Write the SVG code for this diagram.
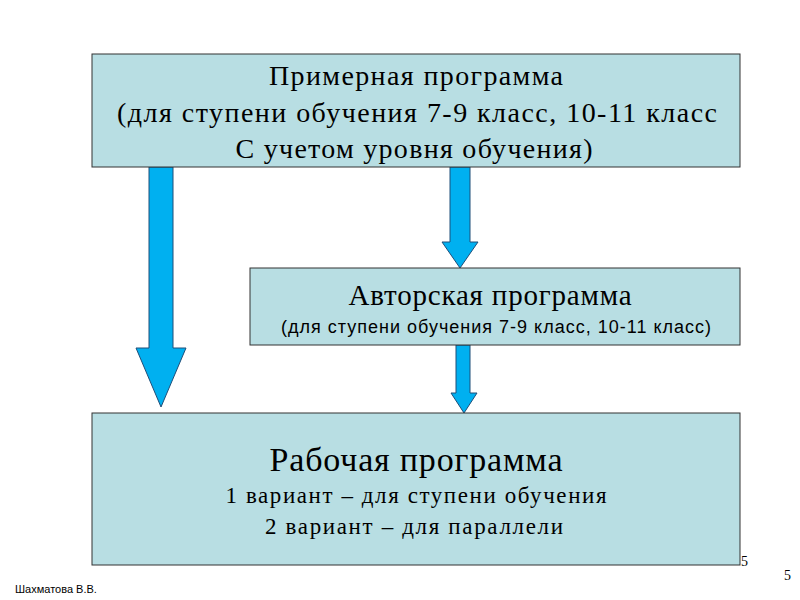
<svg xmlns="http://www.w3.org/2000/svg" width="800" height="600" viewBox="0 0 800 600">
<style>
.box{fill:#b8dee3;stroke:#333;stroke-width:1}
.arr{fill:#00b0f0;stroke:#1f4e79;stroke-width:1}
.t{font-family:"Liberation Serif",serif;fill:#000;text-anchor:middle}
.s{font-family:"Liberation Sans",sans-serif;fill:#000;text-anchor:middle}
</style>
<rect width="800" height="600" fill="#fff"/>
<g id="connectors">
<polygon class="arr" points="149,167 173,167 173,348 186,348 161,407 136,348 149,348"/>
<polygon class="arr" points="450,167 470,167 470,242 478,242 460,268 442,242 450,242"/>
<polygon class="arr" points="456,345 470,345 470,393 477,393 464,413 451,393 456,393"/>
</g>
<g id="node-top">
<rect class="box" x="92" y="54" width="648" height="113"/>
<text class="t" x="416" y="85" font-size="28" textLength="294" lengthAdjust="spacing">Примерная программа</text>
<text class="t" x="417" y="122" font-size="28" textLength="600" lengthAdjust="spacing">(для ступени обучения 7-9 класс, 10-11  класс</text>
<text class="t" x="414" y="158" font-size="28" textLength="357" lengthAdjust="spacing">С учетом уровня обучения)</text>
</g>
<g id="node-author">
<rect class="box" x="250" y="268" width="490" height="77"/>
<text class="t" x="490" y="305" font-size="29" textLength="283" lengthAdjust="spacing">Авторская программа</text>
<text class="s" x="496" y="333" font-size="18" textLength="430" lengthAdjust="spacing">(для ступени обучения 7-9 класс, 10-11  класс)</text>
</g>
<g id="node-work">
<rect class="box" x="92" y="413" width="648" height="152"/>
<text class="t" x="416" y="471" font-size="34" textLength="293" lengthAdjust="spacing">Рабочая программа</text>
<text class="t" x="416" y="503" font-size="23" textLength="381" lengthAdjust="spacing">1 вариант – для ступени обучения</text>
<text class="t" x="414" y="534" font-size="23" textLength="298" lengthAdjust="spacing">2 вариант – для параллели</text>
</g>
<text x="741" y="566" font-family="Liberation Serif,serif" font-size="14">5</text>
<text x="784" y="580" font-family="Liberation Serif,serif" font-size="14">5</text>
<text x="15" y="593" font-family="Liberation Sans,sans-serif" font-size="11">Шахматова В.В.</text>
</svg>
